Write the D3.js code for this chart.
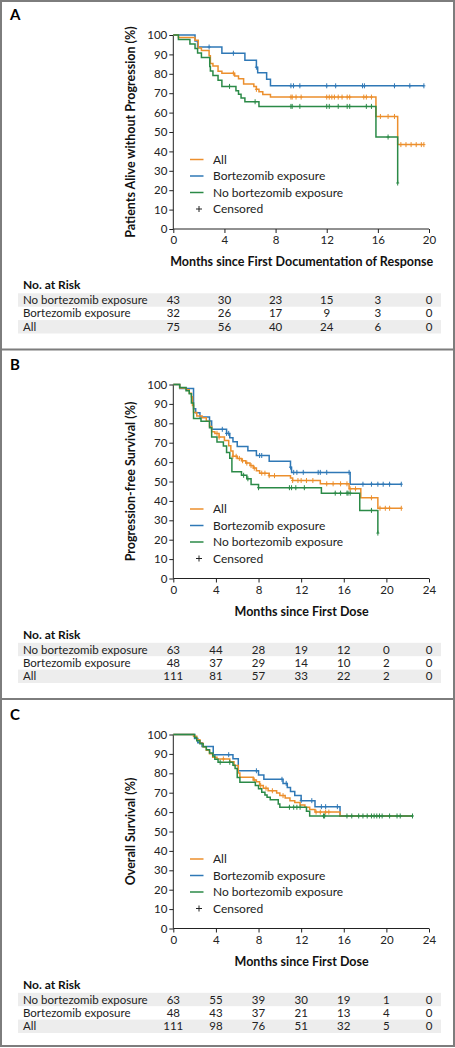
<!DOCTYPE html>
<html><head><meta charset="utf-8">
<script src="https://cdn.jsdelivr.net/npm/d3@7"></script>
<style>
html,body{margin:0;padding:0;background:#fff;}
svg{display:block;font-family:Lato, "Open Sans", sans-serif;}
</style></head>
<body>
<svg id="chart" width="455" height="1048"></svg>
<script>
// ---------- DATA ----------
const seriesNames = ["All", "Bortezomib exposure", "No bortezomib exposure"];
const riskRowNames = ["No bortezomib exposure", "Bortezomib exposure", "All"];

// Panel A: Patients alive without progression
const aTicksX = [0, 4, 8, 12, 16, 20];
const aAll = [[0,100],[0.4,98.7],[1.7,97.3],[1.95,93.3],[2.2,92.0],[2.8,89.3],[2.9,85.3],[3.1,84.0],[3.5,81.3],[3.8,80.3],[4.8,78.9],[5.1,77.5],[5.5,74.8],[6.3,73.4],[6.5,72.0],[6.7,70.7],[7.0,69.3],[7.6,68.0],[15.85,58.0],[17.55,43.5]];
const aAllEnd = 19.6;
const aBort = [[0,100],[1.7,96.9],[1.9,93.8],[3.8,90.6],[5.6,87.0],[6.5,83.4],[6.6,80.5],[7.3,77.2],[7.6,73.8]];
const aBortEnd = 19.6;
const aNoBort = [[0,100],[0.4,97.7],[1.3,95.3],[1.7,93.0],[1.9,90.7],[2.2,88.4],[2.85,83.7],[2.9,81.4],[3.1,79.1],[3.5,76.7],[3.8,73.5],[4.9,71.2],[5.1,69.4],[5.3,67.5],[5.6,65.6],[6.7,63.2],[15.85,47.4],[17.55,23.7]];
const aNoBortEnd = 17.55;
const aAllCens = [4.7,6.5,9.2,9.3,9.6,10.0,12.0,12.2,12.4,12.6,12.9,13.2,13.6,13.8,14.9,15.1,15.5,16.2,16.8,17.3,17.8,18.2,18.6,19.0,19.4,19.6];
const aBortCens = [2.8,4.7,6.5,9.2,9.4,9.9,12.0,12.7,14.8,14.95,17.3,18.5,19.6];
const aNoBortCens = [4.4,6.4,9.2,9.3,9.9,12.0,12.2,12.9,13.6,13.8,15.1,15.5,16.8,17.55];
const aRiskNoBort = [43, 30, 23, 15, 3, 0];
const aRiskBort = [32, 26, 17, 9, 3, 0];
const aRiskAll = [75, 56, 40, 24, 6, 0];

// Panel B: Progression-free survival
const bTicksX = [0, 4, 8, 12, 16, 20, 24];
const bAll = [[0,100],[0.6,98.2],[1.2,97.3],[1.5,95.5],[1.7,93.7],[1.8,89.2],[1.9,85.6],[2.2,83.8],[2.7,82.9],[3.1,81.1],[3.4,78.4],[3.6,75.7],[3.9,74.8],[4.3,72.9],[4.8,71.1],[5.2,68.4],[5.4,65.7],[5.6,63.0],[6.0,61.9],[6.4,60.7],[6.8,59.5],[7.2,58.2],[7.5,56.9],[7.8,55.6],[8.1,54.3],[9.0,53.0],[11.0,51.8],[11.2,50.5],[13.8,48.8],[16.5,46.2],[17.6,41.6],[19.2,36.2]];
const bAllEnd = 21.4;
const bBort = [[0,100],[0.6,97.9],[1.9,87.5],[2.1,85.4],[2.5,83.3],[3.4,81.2],[3.6,76.9],[5.0,74.8],[5.3,72.6],[5.6,70.5],[6.0,68.0],[7.0,65.8],[7.8,63.4],[9.0,60.5],[11.0,57.4],[11.1,54.7],[16.6,48.6]];
const bBortEnd = 21.4;
const bNoBort = [[0,100],[0.6,98.4],[1.2,96.8],[1.5,95.2],[1.7,90.5],[1.9,82.5],[2.6,81.0],[3.4,77.7],[3.6,73.0],[4.1,70.3],[4.7,68.3],[5.0,65.0],[5.3,62.0],[5.5,55.0],[6.4,53.2],[6.9,51.4],[7.3,48.4],[8.0,46.8],[13.9,44.0],[17.5,35.1],[19.2,23.4]];
const bNoBortEnd = 19.2;
const bAllCens = [4.1,4.3,5.6,5.9,6.2,6.5,6.9,7.3,7.6,8.3,8.6,9.0,9.5,11.2,11.7,12.0,12.5,13.1,14.4,15.0,15.7,16.3,16.6,17.1,18.6,19.4,19.9,20.3,21.4];
const bBortCens = [4.6,5.0,5.2,8.1,8.3,11.0,11.3,11.6,12.2,13.6,13.8,14.4,16.5,17.8,18.6,19.2,19.7,20.3,21.4];
const bNoBortCens = [6.6,7.0,8.0,10.9,11.1,11.5,12.3,15.2,15.7,16.3,16.4,16.6,18.6,19.2];
const bRiskNoBort = [63, 44, 28, 19, 12, 0, 0];
const bRiskBort = [48, 37, 29, 14, 10, 2, 0];
const bRiskAll = [111, 81, 57, 33, 22, 2, 0];

// Panel C: Overall survival
const cTicksX = [0, 4, 8, 12, 16, 20, 24];
const cAll = [[0,100],[1.9,99.1],[2.2,97.3],[2.5,95.5],[2.8,93.7],[3.1,91.9],[3.4,90.1],[3.7,88.3],[4.1,87.4],[5.3,86.0],[5.7,84.0],[6.1,80.2],[6.25,78.0],[7.5,76.6],[7.8,75.7],[8.1,73.7],[8.45,72.3],[8.9,71.0],[9.7,69.9],[10.0,68.5],[10.5,67.3],[10.95,65.9],[11.4,64.9],[11.9,63.7],[12.35,62.5],[12.8,61.4],[13.3,60.0],[15.65,58.0]];
const cAllEnd = 22.4;
const cBort = [[0,100],[2.0,97.9],[2.3,95.8],[2.7,93.8],[3.75,89.6],[5.6,87.5],[6.1,81.3],[8.0,79.1],[8.5,76.9],[10.3,74.8],[10.7,72.7],[11.0,70.6],[11.4,68.6],[12.0,65.9],[13.3,62.8],[15.65,58.0]];
const cBortEnd = 22.4;
const cNoBort = [[0,100],[2.0,98.4],[2.2,96.8],[2.5,95.2],[2.8,93.7],[3.1,92.1],[3.4,90.5],[3.7,88.9],[3.9,87.3],[4.2,85.7],[5.6,84.1],[5.8,82.5],[6.0,77.8],[6.25,75.4],[7.7,73.7],[8.0,72.0],[8.3,70.2],[8.6,68.8],[8.8,67.6],[9.1,66.4],[9.85,64.2],[10.0,62.5],[12.5,60.4],[12.8,58.0]];
const cNoBortEnd = 22.45;
const cAllCens = [4.7,7.6,8.2,8.7,9.3,10.3,13.4,13.8,14.3,14.6];
const cBortCens = [5.2,7.8,10.2,10.6,12.0,13.0,13.9,14.3,15.4];
const cNoBortCens = [4.4,5.3,10.9,11.3,11.6,11.9,14.1,14.2,16.3,16.75,17.4,17.8,18.2,18.6,18.85,19.1,19.35,19.6,20.3,21.0,21.3,22.45];
const cRiskNoBort = [63, 55, 39, 30, 19, 1, 0];
const cRiskBort = [48, 43, 37, 21, 13, 4, 0];
const cRiskAll = [111, 98, 76, 51, 32, 5, 0];

const yTicks = [0,10,20,30,40,50,60,70,80,90,100];

// ---------- STYLE ----------
const colors = {"All": "#ec8f2d", "Bortezomib exposure": "#2f78b6", "No bortezomib exposure": "#2b8a47"};

const panels = [
  {letter: "A", top: 0, xMax: 20, ticks: aTicksX, ylab: "Patients Alive without Progression (%)",
   xlab: "Months since First Documentation of Response",
   curves: [["Bortezomib exposure", aBort, aBortEnd, aBortCens], ["All", aAll, aAllEnd, aAllCens], ["No bortezomib exposure", aNoBort, aNoBortEnd, aNoBortCens]],
   risk: [aRiskNoBort, aRiskBort, aRiskAll]},
  {letter: "B", top: 349.5, xMax: 24, ticks: bTicksX, ylab: "Progression-free Survival (%)",
   xlab: "Months since First Dose",
   curves: [["Bortezomib exposure", bBort, bBortEnd, bBortCens], ["All", bAll, bAllEnd, bAllCens], ["No bortezomib exposure", bNoBort, bNoBortEnd, bNoBortCens]],
   risk: [bRiskNoBort, bRiskBort, bRiskAll]},
  {letter: "C", top: 699.5, xMax: 24, ticks: cTicksX, ylab: "Overall Survival (%)",
   xlab: "Months since First Dose",
   curves: [["Bortezomib exposure", cBort, cBortEnd, cBortCens], ["All", cAll, cAllEnd, cAllCens], ["No bortezomib exposure", cNoBort, cNoBortEnd, cNoBortCens]],
   risk: [cRiskNoBort, cRiskBort, cRiskAll]}
];

const svg = d3.select("#chart");
const W = 455, H = 1048;
const border = "#7d7d7d";

// panel frames
svg.append("rect").attr("x", 1).attr("y", 1).attr("width", W - 2).attr("height", H - 3)
  .attr("fill", "none").attr("stroke", border).attr("stroke-width", 2);
[349.5, 699].forEach(y => svg.append("line").attr("x1", 0).attr("x2", W).attr("y1", y).attr("y2", y)
  .attr("stroke", border).attr("stroke-width", 2));

function stepValue(steps, t) {
  let v = steps[0][1];
  for (const s of steps) { if (s[0] <= t) v = s[1]; else break; }
  return v;
}

panels.forEach(p => {
  const g = svg.append("g").attr("transform", `translate(0,${p.top})`);
  const x = d3.scaleLinear().domain([0, p.xMax]).range([173.3, 429]);
  const y = d3.scaleLinear().domain([0, 100]).range([229, 35]);

  g.append("text").attr("x", 10).attr("y", 20).attr("font-size", 15).attr("font-weight", 700)
    .text(p.letter);

  // axes
  const yAxis = d3.axisLeft(y).tickValues(yTicks).tickSize(4).tickPadding(2);
  const ya = g.append("g").attr("transform", `translate(${x(0)},0)`).call(yAxis);
  const xAxis = d3.axisBottom(x).tickValues(p.ticks).tickSize(4).tickPadding(3);
  const xa = g.append("g").attr("transform", `translate(0,${y(0)})`).call(xAxis);
  [ya, xa].forEach(a => {
    a.select(".domain").attr("stroke", "#222").attr("stroke-width", 1);
    a.selectAll(".tick line").attr("stroke", "#222");
    a.selectAll("text").attr("font-family", "Lato, sans-serif").attr("font-size", 11.5).attr("fill", "#222");
  });
  ya.select(".domain").attr("d", `M0,${y(100)}V${y(0)}`);
  xa.select(".domain").attr("d", `M${x(0)},0H${x(p.xMax)}`);

  // axis titles
  g.append("text").attr("transform", `translate(135,${(y(0) + y(100)) / 2}) rotate(-90)`)
    .attr("text-anchor", "middle").attr("font-size", 12.5).attr("font-weight", 700).attr("fill", "#111")
    .text(p.ylab);
  g.append("text").attr("x", (x(0) + x(p.xMax)) / 2 + 0.5).attr("y", 266)
    .attr("text-anchor", "middle").attr("font-size", 12.5).attr("font-weight", 700).attr("fill", "#111")
    .text(p.xlab);

  // curves
  const line = d3.line().x(d => x(d[0])).y(d => y(d[1])).curve(d3.curveStepAfter);
  p.curves.forEach(([name, steps, end, cens]) => {
    const pts = steps.concat([[end, steps[steps.length - 1][1]]]);
    g.append("path").datum(pts).attr("d", line).attr("fill", "none")
      .attr("stroke", colors[name]).attr("stroke-width", 1.5);
    g.append("g").selectAll("path").data(cens).join("path")
      .attr("d", t => { const cx = x(t), cy = y(stepValue(steps, t)); return `M${cx},${cy - 2.5}V${cy + 2.5}M${cx - 1.5},${cy}H${cx + 1.5}`; })
      .attr("stroke", colors[name]).attr("stroke-width", 1).attr("fill", "none");
  });

  // legend
  const ly = [159.5, 176, 192.5];
  seriesNames.forEach((n, i) => {
    g.append("line").attr("x1", 190).attr("x2", 203.5).attr("y1", ly[i]).attr("y2", ly[i])
      .attr("stroke", colors[n]).attr("stroke-width", 1.5);
    g.append("text").attr("x", 213).attr("y", ly[i] + 4.2).attr("font-size", 12).attr("fill", "#222").text(n);
  });
  g.append("path").attr("d", `M199,${209 - 3}V${209 + 3}M${196},209H202`).attr("stroke", "#222").attr("stroke-width", 1);
  g.append("text").attr("x", 213).attr("y", 209 + 4.2).attr("font-size", 12).attr("fill", "#222").text("Censored");

  // risk table
  g.append("text").attr("x", 23).attr("y", 289).attr("font-size", 12).attr("font-weight", 700).attr("fill", "#111")
    .text("No. at Risk");
  const rowY = [300, 313.4, 326.8];
  [0, 2].forEach(i => g.append("rect").attr("x", 18).attr("y", rowY[i] - 6.7).attr("width", 423).attr("height", 13.4)
    .attr("fill", "#ededed"));
  riskRowNames.forEach((n, i) => {
    g.append("text").attr("x", 23).attr("y", rowY[i] + 4).attr("font-size", 11.5).attr("fill", "#222").text(n);
    g.append("g").selectAll("text").data(p.risk[i]).join("text")
      .attr("x", (d, j) => x(p.ticks[j])).attr("y", rowY[i] + 4).attr("text-anchor", "middle")
      .attr("font-size", 11.5).attr("fill", "#222").text(d => d);
  });
});
</script>
</body></html>
